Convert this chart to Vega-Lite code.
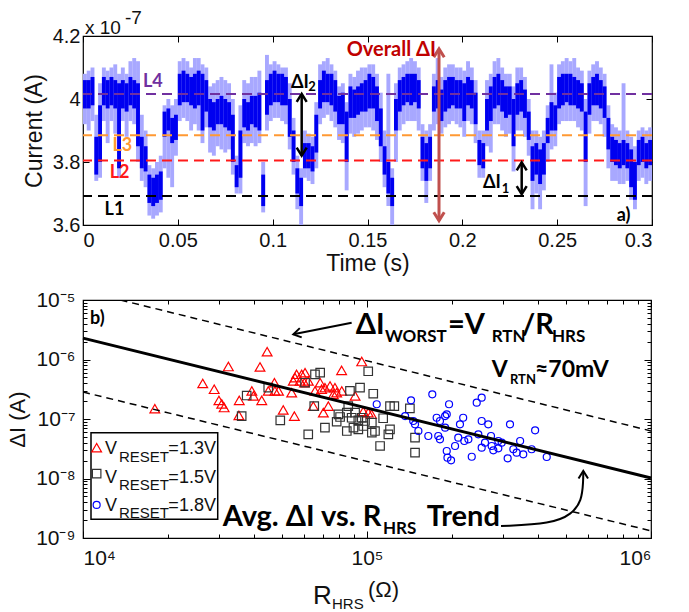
{
"$schema": "https://vega.github.io/schema/vega-lite/v6.json",
"background": "white",
"padding": {"left": 6, "top": 8, "right": 5, "bottom": 2},
"spacing": 12,
"resolve": {"scale": {"color": "independent", "shape": "independent", "size": "independent"}},
"config": {
  "view": {"stroke": "#000", "strokeWidth": 1.2},
  "axis": {"domain": false, "grid": false, "tickColor": "#000", "tickWidth": 1, "labelFont": "Liberation Sans", "labelColor": "#111", "titleFont": "Liberation Sans", "titleFontWeight": "normal", "titleColor": "#111"},
  "text": {"font": "Lato"}
},
"datasets": {
  "sig": [
{"t":0.001,"lo":3.97,"hi":4.06,"plo":3.92,"phi":4.08},{"t":0.003,"lo":3.97,"hi":4.06,"plo":3.90,"phi":4.09},{"t":0.005,"lo":3.98,"hi":4.07,"plo":3.93,"phi":4.10},{"t":0.007,"lo":3.76,"hi":3.88,"plo":3.74,"phi":3.95},{"t":0.009,"lo":3.80,"hi":3.98,"plo":3.75,"phi":4.05},
{"t":0.011,"lo":3.98,"hi":4.07,"plo":3.93,"phi":4.10},{"t":0.013,"lo":3.97,"hi":4.06,"plo":3.86,"phi":4.09},{"t":0.015,"lo":3.98,"hi":4.07,"plo":3.93,"phi":4.10},{"t":0.017,"lo":3.97,"hi":4.06,"plo":3.89,"phi":4.11},{"t":0.019,"lo":3.78,"hi":4.05,"plo":3.75,"phi":4.08},
{"t":0.021,"lo":3.97,"hi":4.06,"plo":3.93,"phi":4.10},{"t":0.023,"lo":3.96,"hi":4.05,"plo":3.88,"phi":4.08},{"t":0.025,"lo":3.98,"hi":4.07,"plo":3.93,"phi":4.12},{"t":0.027,"lo":3.97,"hi":4.06,"plo":3.92,"phi":4.13},{"t":0.029,"lo":3.85,"hi":4.05,"plo":3.80,"phi":4.12},
{"t":0.031,"lo":3.78,"hi":3.88,"plo":3.74,"phi":3.95},{"t":0.033,"lo":3.77,"hi":3.85,"plo":3.72,"phi":3.90},{"t":0.035,"lo":3.67,"hi":3.76,"plo":3.63,"phi":3.79},{"t":0.037,"lo":3.66,"hi":3.75,"plo":3.62,"phi":3.78},{"t":0.039,"lo":3.67,"hi":3.76,"plo":3.63,"phi":3.80},
{"t":0.041,"lo":3.68,"hi":3.77,"plo":3.64,"phi":3.82},{"t":0.043,"lo":3.88,"hi":3.96,"plo":3.78,"phi":3.98},{"t":0.045,"lo":3.90,"hi":3.97,"plo":3.75,"phi":4.00},{"t":0.047,"lo":3.86,"hi":3.94,"plo":3.72,"phi":3.98},{"t":0.049,"lo":3.87,"hi":3.95,"plo":3.82,"phi":4.00},
{"t":0.051,"lo":3.98,"hi":4.08,"plo":3.93,"phi":4.12},{"t":0.053,"lo":3.99,"hi":4.09,"plo":3.94,"phi":4.13},{"t":0.055,"lo":3.99,"hi":4.08,"plo":3.93,"phi":4.12},{"t":0.057,"lo":3.98,"hi":4.07,"plo":3.90,"phi":4.10},{"t":0.059,"lo":3.97,"hi":4.08,"plo":3.92,"phi":4.13},
{"t":0.061,"lo":3.98,"hi":4.09,"plo":3.90,"phi":4.13},{"t":0.063,"lo":3.90,"hi":4.08,"plo":3.86,"phi":4.11},{"t":0.065,"lo":3.96,"hi":4.06,"plo":3.91,"phi":4.10},{"t":0.067,"lo":3.91,"hi":4.00,"plo":3.83,"phi":4.04},{"t":0.069,"lo":3.90,"hi":3.99,"plo":3.82,"phi":4.05},
{"t":0.071,"lo":3.92,"hi":4.00,"plo":3.85,"phi":4.06},{"t":0.073,"lo":3.92,"hi":4.01,"plo":3.84,"phi":4.07},{"t":0.075,"lo":3.91,"hi":4.00,"plo":3.83,"phi":4.06},{"t":0.077,"lo":3.90,"hi":3.99,"plo":3.84,"phi":4.05},{"t":0.079,"lo":3.80,"hi":3.95,"plo":3.76,"phi":4.00},
{"t":0.081,"lo":3.72,"hi":3.79,"plo":3.70,"phi":3.82},{"t":0.083,"lo":3.75,"hi":3.90,"plo":3.70,"phi":3.98},{"t":0.085,"lo":3.91,"hi":4.00,"plo":3.86,"phi":4.06},{"t":0.087,"lo":3.90,"hi":3.99,"plo":3.85,"phi":4.05},{"t":0.089,"lo":3.92,"hi":4.01,"plo":3.86,"phi":4.07},
{"t":0.091,"lo":3.91,"hi":4.01,"plo":3.85,"phi":4.07},{"t":0.093,"lo":3.90,"hi":4.02,"plo":3.86,"phi":4.09},{"t":0.095,"lo":3.66,"hi":3.76,"plo":3.64,"phi":3.80},{"t":0.097,"lo":3.95,"hi":4.06,"plo":3.90,"phi":4.14},{"t":0.099,"lo":3.98,"hi":4.08,"plo":3.93,"phi":4.11},
{"t":0.101,"lo":3.99,"hi":4.09,"plo":3.94,"phi":4.12},{"t":0.103,"lo":3.99,"hi":4.08,"plo":3.94,"phi":4.11},{"t":0.105,"lo":3.98,"hi":4.08,"plo":3.93,"phi":4.10},{"t":0.107,"lo":3.98,"hi":4.07,"plo":3.92,"phi":4.10},{"t":0.109,"lo":3.88,"hi":4.00,"plo":3.84,"phi":4.05},
{"t":0.111,"lo":3.80,"hi":3.90,"plo":3.76,"phi":3.94},{"t":0.113,"lo":3.70,"hi":3.78,"plo":3.65,"phi":3.82},{"t":0.115,"lo":3.66,"hi":3.75,"plo":3.60,"phi":3.78},{"t":0.117,"lo":3.78,"hi":3.86,"plo":3.75,"phi":3.90},{"t":0.119,"lo":3.78,"hi":3.86,"plo":3.74,"phi":3.89},
{"t":0.121,"lo":3.77,"hi":3.85,"plo":3.73,"phi":3.88},{"t":0.123,"lo":3.83,"hi":3.95,"plo":3.78,"phi":3.99},{"t":0.125,"lo":3.97,"hi":4.06,"plo":3.92,"phi":4.11},{"t":0.127,"lo":3.99,"hi":4.09,"plo":3.94,"phi":4.12},{"t":0.129,"lo":3.99,"hi":4.08,"plo":3.95,"phi":4.13},
{"t":0.131,"lo":3.98,"hi":4.08,"plo":3.93,"phi":4.11},{"t":0.133,"lo":3.96,"hi":4.06,"plo":3.91,"phi":4.09},{"t":0.135,"lo":3.92,"hi":4.01,"plo":3.87,"phi":4.04},{"t":0.137,"lo":3.92,"hi":4.02,"plo":3.86,"phi":4.05},{"t":0.139,"lo":3.80,"hi":3.96,"plo":3.71,"phi":3.99},
{"t":0.141,"lo":3.94,"hi":4.04,"plo":3.89,"phi":4.08},{"t":0.143,"lo":3.94,"hi":4.03,"plo":3.88,"phi":4.07},{"t":0.145,"lo":3.95,"hi":4.04,"plo":3.89,"phi":4.09},{"t":0.147,"lo":3.96,"hi":4.05,"plo":3.90,"phi":4.10},{"t":0.149,"lo":3.96,"hi":4.06,"plo":3.91,"phi":4.10},
{"t":0.151,"lo":3.97,"hi":4.08,"plo":3.91,"phi":4.11},{"t":0.153,"lo":3.97,"hi":4.07,"plo":3.90,"phi":4.11},{"t":0.155,"lo":3.93,"hi":4.04,"plo":3.87,"phi":4.08},{"t":0.157,"lo":3.85,"hi":3.97,"plo":3.80,"phi":4.02},{"t":0.159,"lo":3.76,"hi":3.85,"plo":3.72,"phi":3.90},
{"t":0.161,"lo":3.70,"hi":3.80,"plo":3.66,"phi":4.08},{"t":0.163,"lo":3.66,"hi":3.75,"plo":3.60,"phi":3.78},{"t":0.165,"lo":3.90,"hi":4.00,"plo":3.80,"phi":4.05},{"t":0.167,"lo":3.96,"hi":4.06,"plo":3.90,"phi":4.10},{"t":0.169,"lo":3.98,"hi":4.07,"plo":3.92,"phi":4.11},
{"t":0.171,"lo":3.99,"hi":4.08,"plo":3.93,"phi":4.12},{"t":0.173,"lo":3.98,"hi":4.08,"plo":3.93,"phi":4.13},{"t":0.175,"lo":3.99,"hi":4.08,"plo":3.93,"phi":4.12},{"t":0.177,"lo":3.97,"hi":4.06,"plo":3.90,"phi":4.10},{"t":0.179,"lo":3.78,"hi":3.88,"plo":3.74,"phi":3.92},
{"t":0.181,"lo":3.74,"hi":3.86,"plo":3.67,"phi":3.90},{"t":0.183,"lo":3.78,"hi":3.88,"plo":3.74,"phi":3.92},{"t":0.185,"lo":3.96,"hi":4.04,"plo":3.90,"phi":4.08},{"t":0.187,"lo":3.97,"hi":4.06,"plo":3.92,"phi":4.13},{"t":0.189,"lo":3.93,"hi":4.03,"plo":3.89,"phi":4.07},
{"t":0.191,"lo":3.96,"hi":4.06,"plo":3.91,"phi":4.10},{"t":0.193,"lo":3.97,"hi":4.07,"plo":3.92,"phi":4.11},{"t":0.195,"lo":3.98,"hi":4.07,"plo":3.93,"phi":4.11},{"t":0.197,"lo":3.97,"hi":4.06,"plo":3.92,"phi":4.10},{"t":0.199,"lo":3.97,"hi":4.06,"plo":3.91,"phi":4.10},
{"t":0.201,"lo":3.93,"hi":4.05,"plo":3.88,"phi":4.09},{"t":0.203,"lo":3.98,"hi":4.07,"plo":3.93,"phi":4.12},{"t":0.205,"lo":3.97,"hi":4.06,"plo":3.92,"phi":4.10},{"t":0.207,"lo":3.92,"hi":4.02,"plo":3.86,"phi":4.06},{"t":0.209,"lo":3.79,"hi":3.87,"plo":3.75,"phi":3.90},
{"t":0.211,"lo":3.78,"hi":3.86,"plo":3.75,"phi":3.90},{"t":0.213,"lo":3.90,"hi":4.00,"plo":3.85,"phi":4.06},{"t":0.215,"lo":3.93,"hi":4.04,"plo":3.83,"phi":4.08},{"t":0.217,"lo":3.97,"hi":4.07,"plo":3.92,"phi":4.12},{"t":0.219,"lo":3.98,"hi":4.08,"plo":3.92,"phi":4.13},
{"t":0.221,"lo":3.96,"hi":4.06,"plo":3.90,"phi":4.10},{"t":0.223,"lo":3.94,"hi":4.04,"plo":3.88,"phi":4.08},{"t":0.225,"lo":3.95,"hi":4.04,"plo":3.89,"phi":4.08},{"t":0.227,"lo":3.85,"hi":4.00,"plo":3.77,"phi":4.04},{"t":0.229,"lo":3.95,"hi":4.05,"plo":3.90,"phi":4.10},
{"t":0.231,"lo":3.96,"hi":4.06,"plo":3.90,"phi":4.10},{"t":0.233,"lo":3.94,"hi":4.03,"plo":3.88,"phi":4.07},{"t":0.235,"lo":3.87,"hi":3.96,"plo":3.82,"phi":4.00},{"t":0.237,"lo":3.74,"hi":3.85,"plo":3.65,"phi":3.90},{"t":0.239,"lo":3.76,"hi":3.86,"plo":3.70,"phi":3.90},
{"t":0.241,"lo":3.73,"hi":3.84,"plo":3.65,"phi":3.88},{"t":0.243,"lo":3.76,"hi":3.86,"plo":3.71,"phi":3.90},{"t":0.245,"lo":3.86,"hi":3.94,"plo":3.80,"phi":3.98},{"t":0.247,"lo":3.90,"hi":3.99,"plo":3.84,"phi":4.11},{"t":0.249,"lo":3.90,"hi":3.98,"plo":3.85,"phi":4.02},
{"t":0.251,"lo":3.97,"hi":4.07,"plo":3.92,"phi":4.11},{"t":0.253,"lo":3.98,"hi":4.08,"plo":3.93,"phi":4.12},{"t":0.255,"lo":3.99,"hi":4.08,"plo":3.93,"phi":4.13},{"t":0.257,"lo":3.98,"hi":4.08,"plo":3.93,"phi":4.12},{"t":0.259,"lo":3.98,"hi":4.07,"plo":3.93,"phi":4.13},
{"t":0.261,"lo":3.97,"hi":4.06,"plo":3.91,"phi":4.10},{"t":0.263,"lo":3.96,"hi":4.05,"plo":3.90,"phi":4.09},{"t":0.265,"lo":3.80,"hi":3.96,"plo":3.66,"phi":4.00},{"t":0.267,"lo":3.95,"hi":4.05,"plo":3.89,"phi":4.09},{"t":0.269,"lo":3.98,"hi":4.07,"plo":3.93,"phi":4.11},
{"t":0.271,"lo":3.98,"hi":4.08,"plo":3.93,"phi":4.12},{"t":0.273,"lo":3.97,"hi":4.06,"plo":3.92,"phi":4.10},{"t":0.275,"lo":3.94,"hi":4.04,"plo":3.88,"phi":4.08},{"t":0.277,"lo":3.84,"hi":3.94,"plo":3.78,"phi":3.98},{"t":0.279,"lo":3.80,"hi":3.88,"plo":3.74,"phi":3.92},
{"t":0.281,"lo":3.79,"hi":3.87,"plo":3.74,"phi":3.91},{"t":0.283,"lo":3.78,"hi":3.86,"plo":3.73,"phi":3.90},{"t":0.285,"lo":3.79,"hi":3.87,"plo":3.73,"phi":4.05},{"t":0.287,"lo":3.78,"hi":3.86,"plo":3.74,"phi":3.90},{"t":0.289,"lo":3.72,"hi":3.84,"plo":3.68,"phi":3.88},
{"t":0.291,"lo":3.68,"hi":3.80,"plo":3.65,"phi":3.85},{"t":0.293,"lo":3.79,"hi":3.87,"plo":3.74,"phi":3.90},{"t":0.295,"lo":3.80,"hi":3.88,"plo":3.75,"phi":3.91},{"t":0.297,"lo":3.78,"hi":3.86,"plo":3.73,"phi":3.90},{"t":0.299,"lo":3.79,"hi":3.87,"plo":3.74,"phi":3.91}
  ],
  "levels": [{"level":"L1","v":3.692},{"level":"L2","v":3.805},{"level":"L3","v":3.885},{"level":"L4","v":4.016}],
  "levelLabels": [{"level":"L4","t":0.0316,"v":4.037},{"level":"L3","t":0.0155,"v":3.836},{"level":"L2","t":0.0141,"v":3.749},{"level":"L1","t":0.0114,"v":3.633}],
  "dArrows": [{"t":0.1153,"top":4.016,"bot":3.82},{"t":0.2313,"top":3.799,"bot":3.698}],
  "oArrow": [{"t":0.1877,"top":4.159,"bot":3.614}],
  "topText": [{"t":0.1097,"v":4.035,"s":"ΔI"},{"t":0.2109,"v":3.7165,"s":"ΔI"},{"t":0.2814,"v":3.614,"s":"a)"}],
  "topSub": [{"t":0.1188,"v":4.026,"s":"2"},{"t":0.2208,"v":3.7016,"s":"1"}],
  "overallText": [{"t":0.139,"v":4.137,"s":"Overall ΔI"}],
  "expText": [{"t":0.00105,"v":4.206,"s":"x 10"},{"t":0.0221,"v":4.238,"s":"-7"}],
  "pts": [
{"s":"1.3","R":17900,"dI":1.49e-7},{"s":"1.3","R":26400,"dI":3.95e-7},{"s":"1.3","R":28970,"dI":3.16e-7},{"s":"1.3","R":30100,"dI":2.05e-7},{"s":"1.3","R":30800,"dI":1.79e-7},
{"s":"1.3","R":31400,"dI":1.56e-7},{"s":"1.3","R":32500,"dI":7.62e-7},{"s":"1.3","R":35500,"dI":2.06e-7},{"s":"1.3","R":35400,"dI":1.15e-7},{"s":"1.3","R":39300,"dI":2.96e-7},
{"s":"1.3","R":39800,"dI":2.44e-7},{"s":"1.3","R":42600,"dI":2.06e-7},{"s":"1.3","R":42000,"dI":7.48e-7},{"s":"1.3","R":44500,"dI":1.35e-6},{"s":"1.3","R":47200,"dI":4.07e-7},
{"s":"1.3","R":48800,"dI":2.96e-7},{"s":"1.3","R":50700,"dI":1.42e-7},{"s":"1.3","R":55500,"dI":1.12e-7},{"s":"1.3","R":55000,"dI":4.36e-7},{"s":"1.3","R":56500,"dI":5.64e-7},
{"s":"1.3","R":58900,"dI":5.64e-7},{"s":"1.3","R":60500,"dI":6.0e-7},{"s":"1.3","R":58100,"dI":4.36e-7},{"s":"1.3","R":60200,"dI":4.07e-7},{"s":"1.3","R":54300,"dI":2.77e-7},
{"s":"1.3","R":47400,"dI":2.96e-7},{"s":"1.3","R":68400,"dI":4.07e-7},{"s":"1.3","R":69200,"dI":3.16e-7},{"s":"1.3","R":74100,"dI":3.59e-7},{"s":"1.3","R":77100,"dI":3.36e-7},
{"s":"1.3","R":78200,"dI":2.77e-7},{"s":"1.3","R":81400,"dI":6.58e-7},{"s":"1.3","R":76100,"dI":2.60e-7},{"s":"1.3","R":73100,"dI":1.65e-7},{"s":"1.3","R":64700,"dI":1.65e-7},
{"s":"1.3","R":70200,"dI":1.28e-7},{"s":"1.3","R":90800,"dI":2.44e-7},{"s":"1.3","R":95800,"dI":9.25e-7},{"s":"1.3","R":97000,"dI":1.34e-7},{"s":"1.3","R":101000,"dI":1.28e-7},
{"s":"1.3","R":103700,"dI":1.2e-7},{"s":"1.3","R":44900,"dI":2.96e-7},{"s":"1.3","R":55780,"dI":4.94e-7},{"s":"1.3","R":62140,"dI":4.36e-7},{"s":"1.3","R":65600,"dI":2.96e-7},
{"s":"1.3","R":71100,"dI":3.36e-7},{"s":"1.3","R":81500,"dI":2.96e-7},
{"s":"1.5","R":36200,"dI":1.12e-7},{"s":"1.5","R":37700,"dI":2.48e-7},{"s":"1.5","R":44900,"dI":3.36e-7},{"s":"1.5","R":49500,"dI":9.5e-8},{"s":"1.5","R":62100,"dI":5.53e-8},
{"s":"1.5","R":65200,"dI":1.65e-7},{"s":"1.5","R":65600,"dI":5.64e-7},{"s":"1.5","R":68400,"dI":6.0e-7},{"s":"1.5","R":60500,"dI":4.07e-7},{"s":"1.5","R":71100,"dI":7.14e-8},
{"s":"1.5","R":78200,"dI":9.0e-8},{"s":"1.5","R":80400,"dI":1.08e-7},{"s":"1.5","R":84900,"dI":1.28e-7},{"s":"1.5","R":85900,"dI":1.65e-7},{"s":"1.5","R":87100,"dI":2.96e-7},
{"s":"1.5","R":94500,"dI":3.36e-7},{"s":"1.5","R":105200,"dI":2.66e-7},{"s":"1.5","R":101000,"dI":6.34e-7},{"s":"1.5","R":84900,"dI":6.28e-8},{"s":"1.5","R":89600,"dI":7.14e-8},
{"s":"1.5","R":93200,"dI":9.5e-8},{"s":"1.5","R":98400,"dI":9.25e-8},{"s":"1.5","R":104000,"dI":8.67e-8},{"s":"1.5","R":106700,"dI":6.28e-8},{"s":"1.5","R":97000,"dI":7.62e-8},
{"s":"1.5","R":88300,"dI":1.05e-7},{"s":"1.5","R":111200,"dI":3.52e-8},{"s":"1.5","R":95800,"dI":1.05e-7},{"s":"1.5","R":104000,"dI":5.9e-8},{"s":"1.5","R":93200,"dI":6.71e-8},
{"s":"1.5","R":114000,"dI":1.03e-7},{"s":"1.5","R":120500,"dI":1.65e-7},{"s":"1.5","R":124800,"dI":1.65e-7},{"s":"1.5","R":141600,"dI":1.51e-7},{"s":"1.5","R":120500,"dI":6.71e-8},
{"s":"1.5","R":118900,"dI":5.53e-8},{"s":"1.5","R":147600,"dI":4.85e-8},{"s":"1.5","R":147600,"dI":2.72e-8},{"s":"1.5","R":79300,"dI":1.2e-7},{"s":"1.5","R":90800,"dI":1.28e-7},
{"s":"1.8","R":108200,"dI":1.77e-7},{"s":"1.8","R":142900,"dI":2.06e-7},{"s":"1.8","R":136200,"dI":1.12e-7},{"s":"1.8","R":147600,"dI":8.15e-8},{"s":"1.8","R":151700,"dI":6.28e-8},
{"s":"1.8","R":164400,"dI":5.18e-8},{"s":"1.8","R":169800,"dI":2.60e-7},{"s":"1.8","R":175900,"dI":1.05e-7},{"s":"1.8","R":180700,"dI":9.25e-8},{"s":"1.8","R":180700,"dI":4.56e-8},
{"s":"1.8","R":188400,"dI":7.14e-8},{"s":"1.8","R":190900,"dI":1.2e-7},{"s":"1.8","R":194500,"dI":1.77e-7},{"s":"1.8","R":190900,"dI":2.9e-8},{"s":"1.8","R":192000,"dI":2.24e-8},
{"s":"1.8","R":197700,"dI":2.02e-8},{"s":"1.8","R":204200,"dI":3.52e-8},{"s":"1.8","R":209600,"dI":4.85e-8},{"s":"1.8","R":212500,"dI":8.15e-8},{"s":"1.8","R":218100,"dI":1.05e-7},
{"s":"1.8","R":220100,"dI":4.27e-8},{"s":"1.8","R":227500,"dI":4.56e-8},{"s":"1.8","R":233800,"dI":2.32e-8},{"s":"1.8","R":243400,"dI":1.88e-7},{"s":"1.8","R":253400,"dI":2.28e-7},
{"s":"1.8","R":253400,"dI":9.25e-8},{"s":"1.8","R":253400,"dI":3.3e-8},{"s":"1.8","R":260300,"dI":4.0e-8},{"s":"1.8","R":267300,"dI":8.15e-8},{"s":"1.8","R":273300,"dI":5.18e-8},
{"s":"1.8","R":274800,"dI":3.52e-8},{"s":"1.8","R":278500,"dI":2.98e-8},{"s":"1.8","R":290000,"dI":3.22e-8},{"s":"1.8","R":298000,"dI":4.0e-8},{"s":"1.8","R":312800,"dI":2.18e-8},
{"s":"1.8","R":318800,"dI":8.15e-8},{"s":"1.8","R":246600,"dI":5.53e-8},{"s":"1.8","R":188400,"dI":1.12e-7},{"s":"1.8","R":390800,"dI":6.46e-8},{"s":"1.8","R":178200,"dI":5.18e-8},
{"s":"1.8","R":290000,"dI":4.27e-8},{"s":"1.8","R":346100,"dI":4.27e-8},{"s":"1.8","R":327600,"dI":3.1e-8},{"s":"1.8","R":336500,"dI":2.72e-8},{"s":"1.8","R":355000,"dI":2.55e-8},
{"s":"1.8","R":380000,"dI":3.1e-8},{"s":"1.8","R":429400,"dI":2.3e-8},{"s":"1.8","R":145500,"dI":9.25e-8}
  ],
  "dashLines": [{"line":"worst","R":13550,"dI":1e-5},{"line":"worst","R":1000000,"dI":6.3e-8},{"line":"low","R":10000,"dI":2.84e-7},{"line":"low","R":1000000,"dI":1.32e-9}],
  "avgLine": [{"R":10000,"dI":2.29e-6},{"R":1000000,"dI":1.02e-8}],
  "curve": [{"o":1,"R":296400,"dI":1.59e-9},{"o":2,"R":447200,"dI":1.74e-9},{"o":3,"R":525800,"dI":2.5e-9},{"o":4,"R":570200,"dI":4.19e-9},{"o":5,"R":577500,"dI":9.08e-9},{"o":6,"R":577500,"dI":1.34e-8}],
  "curveHead": [{"R":577500,"dI":1.34e-8}],
  "straight": [{"R":88310,"dI":4.16e-6},{"R":55020,"dI":2.65e-6}],
  "straightHead": [{"R":55020,"dI":2.65e-6}],
  "legendBox": [{"x1":10670,"x2":29810,"y1":5.89e-8,"y2":2.06e-9}],
  "legendPts": [{"s":"1.3","R":11170,"dI":3.3e-8},{"s":"1.5","R":11170,"dI":1.21e-8},{"s":"1.8","R":11170,"dI":3.59e-9}],
  "legendMain": [{"R":11960,"dI":2.55e-8,"s":"V"},{"R":19980,"dI":2.55e-8,"s":"=1.3V"},{"R":11960,"dI":8.51e-9,"s":"V"},{"R":19980,"dI":8.51e-9,"s":"=1.5V"},{"R":11960,"dI":2.82e-9,"s":"V"},{"R":19980,"dI":2.82e-9,"s":"=1.8V"}],
  "legendSub": [{"R":13390,"dI":1.89e-8,"s":"RESET"},{"R":13390,"dI":6.34e-9,"s":"RESET"},{"R":13390,"dI":2.14e-9,"s":"RESET"}],
  "bigText": [{"R":91250,"dI":2.65e-6,"s":"ΔI"},{"R":192900,"dI":2.65e-6,"s":"=V"},{"R":350500,"dI":2.65e-6,"s":"/R"},{"R":31040,"dI":1.59e-9,"s":"Avg. ΔI vs. R"},{"R":162300,"dI":1.59e-9,"s":"Trend"}],
  "bigSub": [{"R":115700,"dI":1.97e-6,"s":"WORST"},{"R":274800,"dI":1.97e-6,"s":"RTN"},{"R":448100,"dI":1.97e-6,"s":"HRS"},{"R":113800,"dI":1.15e-9,"s":"HRS"}],
  "medText": [{"R":274800,"dI":5.08e-7,"s":"V"},{"R":390500,"dI":5.08e-7,"s":"≈70mV"}],
  "medSub": [{"R":318800,"dI":3.83e-7,"s":"RTN"}],
  "bLabel": [{"R":10580,"dI":3.91e-6,"s":"b)"}],
  "xTitleMain": [{"R":64540,"dI":7.78e-11,"s":"R"}],
  "xTitleSub": [{"R":75310,"dI":6.41e-11,"s":"HRS"}],
  "xTitleUnit": [{"R":100800,"dI":1.02e-10,"s":"(Ω)"}]
},
"vconcat": [
{
  "width": 569, "height": 189,
  "resolve": {"axis": {"x": "independent", "y": "independent"}},
  "layer": [
    {"data": {"name": "sig"}, "mark": {"type": "rule", "color": "#a8a8ff", "strokeWidth": 3.9},
     "encoding": {
       "x": {"field": "t", "type": "quantitative", "scale": {"domain": [0, 0.3], "nice": false},
             "axis": {"orient": "bottom", "values": [0, 0.05, 0.1, 0.15, 0.2, 0.25, 0.3], "format": "~g", "title": "Time (s)", "tickSize": -6, "labelPadding": 11, "labelFontSize": 20, "titleFontSize": 23, "titlePadding": 2}},
       "y": {"field": "plo", "type": "quantitative", "scale": {"domain": [3.6, 4.2], "nice": false, "zero": false},
             "axis": {"orient": "left", "values": [3.6, 3.8, 4, 4.2], "format": "~g", "title": "Current (A)", "tickSize": -6, "labelPadding": 9, "labelFontSize": 20, "titleFontSize": 23, "titlePadding": 6}},
       "y2": {"field": "phi"}}},
    {"data": {"name": "sig"}, "mark": {"type": "rule", "color": "#0000f0", "strokeWidth": 3.9},
     "encoding": {
       "x": {"field": "t", "type": "quantitative", "axis": {"orient": "top", "values": [0, 0.05, 0.1, 0.15, 0.2, 0.25, 0.3], "labels": false, "title": null, "tickSize": -6}},
       "y": {"field": "lo", "type": "quantitative", "axis": {"orient": "right", "values": [3.6, 3.8, 4, 4.2], "labels": false, "title": null, "tickSize": -6}},
       "y2": {"field": "hi"}}},
    {"data": {"name": "levels"}, "mark": {"type": "rule", "strokeDash": [10, 6], "strokeWidth": 2},
     "encoding": {
       "y": {"field": "v", "type": "quantitative", "axis": null},
       "color": {"field": "level", "type": "nominal", "scale": {"domain": ["L1", "L2", "L3", "L4"], "range": ["#000000", "#ff1a1a", "#ff9933", "#7030a0"]}, "legend": null}}},
    {"data": {"name": "levelLabels"}, "mark": {"type": "text", "font": "Lato", "fontWeight": "bold", "fontSize": 18, "align": "left", "baseline": "alphabetic"},
     "encoding": {
       "x": {"field": "t", "type": "quantitative", "axis": null},
       "y": {"field": "v", "type": "quantitative", "axis": null},
       "text": {"field": "level"},
       "color": {"field": "level", "type": "nominal", "legend": null}}},
    {"data": {"name": "dArrows"}, "mark": {"type": "rule", "color": "#000", "strokeWidth": 2.5},
     "encoding": {"x": {"field": "t", "type": "quantitative", "axis": null}, "y": {"field": "top", "type": "quantitative", "axis": null}, "y2": {"field": "bot"}}},
    {"data": {"name": "dArrows"}, "mark": {"type": "point", "shape": "M -1 1.6 L 0 0 L 1 1.6", "filled": false, "size": 100, "color": "#000", "strokeWidth": 2.5, "opacity": 1},
     "encoding": {"x": {"field": "t", "type": "quantitative", "axis": null}, "y": {"field": "top", "type": "quantitative", "axis": null}}},
    {"data": {"name": "dArrows"}, "mark": {"type": "point", "shape": "M -1 -1.6 L 0 0 L 1 -1.6", "filled": false, "size": 100, "color": "#000", "strokeWidth": 2.5, "opacity": 1},
     "encoding": {"x": {"field": "t", "type": "quantitative", "axis": null}, "y": {"field": "bot", "type": "quantitative", "axis": null}}},
    {"data": {"name": "oArrow"}, "mark": {"type": "rule", "color": "#c0504d", "strokeWidth": 3},
     "encoding": {"x": {"field": "t", "type": "quantitative", "axis": null}, "y": {"field": "top", "type": "quantitative", "axis": null}, "y2": {"field": "bot"}}},
    {"data": {"name": "oArrow"}, "mark": {"type": "point", "shape": "M -1 1.6 L 0 0 L 1 1.6", "filled": false, "size": 110, "color": "#c0504d", "strokeWidth": 3, "opacity": 1},
     "encoding": {"x": {"field": "t", "type": "quantitative", "axis": null}, "y": {"field": "top", "type": "quantitative", "axis": null}}},
    {"data": {"name": "oArrow"}, "mark": {"type": "point", "shape": "M -1 -1.6 L 0 0 L 1 -1.6", "filled": false, "size": 110, "color": "#c0504d", "strokeWidth": 3, "opacity": 1},
     "encoding": {"x": {"field": "t", "type": "quantitative", "axis": null}, "y": {"field": "bot", "type": "quantitative", "axis": null}}},
    {"data": {"name": "topText"}, "mark": {"type": "text", "font": "Lato", "fontWeight": "bold", "fontSize": 18, "align": "left", "baseline": "alphabetic", "color": "#000"},
     "encoding": {"x": {"field": "t", "type": "quantitative", "axis": null}, "y": {"field": "v", "type": "quantitative", "axis": null}, "text": {"field": "s"}}},
    {"data": {"name": "topSub"}, "mark": {"type": "text", "font": "Lato", "fontWeight": "bold", "fontSize": 13, "align": "left", "baseline": "alphabetic", "color": "#000"},
     "encoding": {"x": {"field": "t", "type": "quantitative", "axis": null}, "y": {"field": "v", "type": "quantitative", "axis": null}, "text": {"field": "s"}}},
    {"data": {"name": "overallText"}, "mark": {"type": "text", "font": "Lato", "fontWeight": "bold", "fontSize": 20, "align": "left", "baseline": "alphabetic", "color": "#c00000"},
     "encoding": {"x": {"field": "t", "type": "quantitative", "axis": null}, "y": {"field": "v", "type": "quantitative", "axis": null}, "text": {"field": "s"}}},
    {"data": {"name": "expText"}, "mark": {"type": "text", "font": "Liberation Sans", "fontSize": 19, "align": "left", "baseline": "alphabetic", "color": "#111"},
     "encoding": {"x": {"field": "t", "type": "quantitative", "axis": null}, "y": {"field": "v", "type": "quantitative", "axis": null}, "text": {"field": "s"}}}
  ]
},
{
  "width": 568, "height": 238,
  "resolve": {"axis": {"x": "independent", "y": "independent"}},
  "layer": [
    {"data": {"name": "pts"}, "mark": {"type": "point", "filled": false, "strokeWidth": 1.2, "opacity": 1},
     "encoding": {
       "x": {"field": "R", "type": "quantitative", "scale": {"type": "log", "domain": [10000, 1000000], "nice": false},
             "axis": {"orient": "bottom", "values": [10000, 100000, 1000000], "labelExpr": "datum.value == 10000 ? '10⁴' : datum.value == 100000 ? '10⁵' : '10⁶'", "tickSize": -7, "labelPadding": 16, "labelFontSize": 21, "title": null}},
       "y": {"field": "dI", "type": "quantitative", "scale": {"type": "log", "domain": [1e-9, 1e-5], "nice": false},
             "axis": {"orient": "left", "values": [1e-9, 1e-8, 1e-7, 1e-6, 1e-5], "labelExpr": "datum.value == 1e-5 ? '10⁻⁵' : datum.value == 1e-6 ? '10⁻⁶' : datum.value == 1e-7 ? '10⁻⁷' : datum.value == 1e-8 ? '10⁻⁸' : '10⁻⁹'", "tickSize": -7, "labelPadding": 15, "labelFontSize": 21, "title": "ΔI (A)", "titleFontSize": 22, "titlePadding": 6}},
       "shape": {"field": "s", "type": "nominal", "scale": {"domain": ["1.3", "1.5", "1.8"], "range": ["triangle-up", "square", "circle"]}, "legend": null},
       "color": {"field": "s", "type": "nominal", "scale": {"domain": ["1.3", "1.5", "1.8"], "range": ["#ff0000", "#333333", "#0000ff"]}, "legend": null},
       "size": {"field": "s", "type": "nominal", "scale": {"domain": ["1.3", "1.5", "1.8"], "range": [95, 49, 72]}, "legend": null}}},
    {"data": {"name": "dashLines"}, "mark": {"type": "line", "color": "#000", "strokeWidth": 1.5, "strokeDash": [7, 5], "clip": true},
     "encoding": {
       "x": {"field": "R", "type": "quantitative", "axis": {"orient": "bottom", "values": [20000, 30000, 40000, 50000, 60000, 70000, 80000, 90000, 200000, 300000, 400000, 500000, 600000, 700000, 800000, 900000], "labels": false, "title": null, "tickSize": -4}},
       "y": {"field": "dI", "type": "quantitative", "axis": {"orient": "left", "values": [2e-9, 3e-9, 4e-9, 5e-9, 6e-9, 7e-9, 8e-9, 9e-9, 2e-8, 3e-8, 4e-8, 5e-8, 6e-8, 7e-8, 8e-8, 9e-8, 2e-7, 3e-7, 4e-7, 5e-7, 6e-7, 7e-7, 8e-7, 9e-7, 2e-6, 3e-6, 4e-6, 5e-6, 6e-6, 7e-6, 8e-6, 9e-6], "labels": false, "title": null, "tickSize": -4}},
       "detail": {"field": "line"}}},
    {"data": {"name": "avgLine"}, "mark": {"type": "line", "color": "#000", "strokeWidth": 3},
     "encoding": {
       "x": {"field": "R", "type": "quantitative", "axis": {"orient": "top", "values": [10000, 100000, 1000000], "labels": false, "title": null, "tickSize": -7}},
       "y": {"field": "dI", "type": "quantitative", "axis": {"orient": "right", "values": [1e-9, 1e-8, 1e-7, 1e-6, 1e-5], "labels": false, "title": null, "tickSize": -7}}}},
    {"data": {"name": "curve"}, "mark": {"type": "line", "color": "#000", "strokeWidth": 2, "interpolate": "basis"},
     "encoding": {
       "x": {"field": "R", "type": "quantitative", "axis": {"orient": "top", "values": [20000, 30000, 40000, 50000, 60000, 70000, 80000, 90000, 200000, 300000, 400000, 500000, 600000, 700000, 800000, 900000], "labels": false, "title": null, "tickSize": -4}},
       "y": {"field": "dI", "type": "quantitative", "axis": {"orient": "right", "values": [2e-9, 3e-9, 4e-9, 5e-9, 6e-9, 7e-9, 8e-9, 9e-9, 2e-8, 3e-8, 4e-8, 5e-8, 6e-8, 7e-8, 8e-8, 9e-8, 2e-7, 3e-7, 4e-7, 5e-7, 6e-7, 7e-7, 8e-7, 9e-7, 2e-6, 3e-6, 4e-6, 5e-6, 6e-6, 7e-6, 8e-6, 9e-6], "labels": false, "title": null, "tickSize": -4}},
       "order": {"field": "o", "type": "quantitative"}}},
    {"data": {"name": "curveHead"}, "mark": {"type": "point", "shape": "M -1 1.6 L 0 0 L 1 1.6", "filled": false, "size": 90, "color": "#000", "strokeWidth": 2, "opacity": 1},
     "encoding": {"x": {"field": "R", "type": "quantitative", "axis": null}, "y": {"field": "dI", "type": "quantitative", "axis": null}}},
    {"data": {"name": "straight"}, "mark": {"type": "line", "color": "#000", "strokeWidth": 2},
     "encoding": {"x": {"field": "R", "type": "quantitative", "axis": null}, "y": {"field": "dI", "type": "quantitative", "axis": null}}},
    {"data": {"name": "straightHead"}, "mark": {"type": "point", "shape": "M 1.6 -1 L 0 0 L 1.6 1", "angle": 348.4, "filled": false, "size": 90, "color": "#000", "strokeWidth": 2, "opacity": 1},
     "encoding": {"x": {"field": "R", "type": "quantitative", "axis": null}, "y": {"field": "dI", "type": "quantitative", "axis": null}}},
    {"data": {"name": "legendBox"}, "mark": {"type": "rect", "fill": "#fff", "stroke": "#000", "strokeWidth": 1.5},
     "encoding": {"x": {"field": "x1", "type": "quantitative", "axis": null}, "x2": {"field": "x2"}, "y": {"field": "y1", "type": "quantitative", "axis": null}, "y2": {"field": "y2"}}},
    {"data": {"name": "legendPts"}, "mark": {"type": "point", "filled": false, "strokeWidth": 1.2, "opacity": 1},
     "encoding": {"x": {"field": "R", "type": "quantitative", "axis": null}, "y": {"field": "dI", "type": "quantitative", "axis": null},
       "shape": {"field": "s", "type": "nominal", "legend": null}, "color": {"field": "s", "type": "nominal", "legend": null}, "size": {"field": "s", "type": "nominal", "legend": null}}},
    {"data": {"name": "legendMain"}, "mark": {"type": "text", "font": "Liberation Sans", "fontSize": 18, "align": "left", "baseline": "alphabetic", "color": "#111"},
     "encoding": {"x": {"field": "R", "type": "quantitative", "axis": null}, "y": {"field": "dI", "type": "quantitative", "axis": null}, "text": {"field": "s"}}},
    {"data": {"name": "legendSub"}, "mark": {"type": "text", "font": "Liberation Sans", "fontSize": 15, "align": "left", "baseline": "alphabetic", "color": "#111"},
     "encoding": {"x": {"field": "R", "type": "quantitative", "axis": null}, "y": {"field": "dI", "type": "quantitative", "axis": null}, "text": {"field": "s"}}},
    {"data": {"name": "bigText"}, "mark": {"type": "text", "font": "Lato", "fontWeight": "bold", "fontSize": 29, "align": "left", "baseline": "alphabetic", "color": "#000"},
     "encoding": {"x": {"field": "R", "type": "quantitative", "axis": null}, "y": {"field": "dI", "type": "quantitative", "axis": null}, "text": {"field": "s"}}},
    {"data": {"name": "bigSub"}, "mark": {"type": "text", "font": "Lato", "fontWeight": "bold", "fontSize": 17, "align": "left", "baseline": "alphabetic", "color": "#000"},
     "encoding": {"x": {"field": "R", "type": "quantitative", "axis": null}, "y": {"field": "dI", "type": "quantitative", "axis": null}, "text": {"field": "s"}}},
    {"data": {"name": "medText"}, "mark": {"type": "text", "font": "Lato", "fontWeight": "bold", "fontSize": 23, "align": "left", "baseline": "alphabetic", "color": "#000"},
     "encoding": {"x": {"field": "R", "type": "quantitative", "axis": null}, "y": {"field": "dI", "type": "quantitative", "axis": null}, "text": {"field": "s"}}},
    {"data": {"name": "medSub"}, "mark": {"type": "text", "font": "Lato", "fontWeight": "bold", "fontSize": 13, "align": "left", "baseline": "alphabetic", "color": "#000"},
     "encoding": {"x": {"field": "R", "type": "quantitative", "axis": null}, "y": {"field": "dI", "type": "quantitative", "axis": null}, "text": {"field": "s"}}},
    {"data": {"name": "bLabel"}, "mark": {"type": "text", "font": "Lato", "fontWeight": "bold", "fontSize": 18, "align": "left", "baseline": "alphabetic", "color": "#000"},
     "encoding": {"x": {"field": "R", "type": "quantitative", "axis": null}, "y": {"field": "dI", "type": "quantitative", "axis": null}, "text": {"field": "s"}}},
    {"data": {"name": "xTitleMain"}, "mark": {"type": "text", "font": "Liberation Sans", "fontSize": 26, "align": "left", "baseline": "alphabetic", "color": "#111"},
     "encoding": {"x": {"field": "R", "type": "quantitative", "axis": null}, "y": {"field": "dI", "type": "quantitative", "axis": null}, "text": {"field": "s"}}},
    {"data": {"name": "xTitleSub"}, "mark": {"type": "text", "font": "Liberation Sans", "fontSize": 15, "align": "left", "baseline": "alphabetic", "color": "#111"},
     "encoding": {"x": {"field": "R", "type": "quantitative", "axis": null}, "y": {"field": "dI", "type": "quantitative", "axis": null}, "text": {"field": "s"}}},
    {"data": {"name": "xTitleUnit"}, "mark": {"type": "text", "font": "Liberation Sans", "fontSize": 22, "align": "left", "baseline": "alphabetic", "color": "#111"},
     "encoding": {"x": {"field": "R", "type": "quantitative", "axis": null}, "y": {"field": "dI", "type": "quantitative", "axis": null}, "text": {"field": "s"}}}
  ]
}
]
}
